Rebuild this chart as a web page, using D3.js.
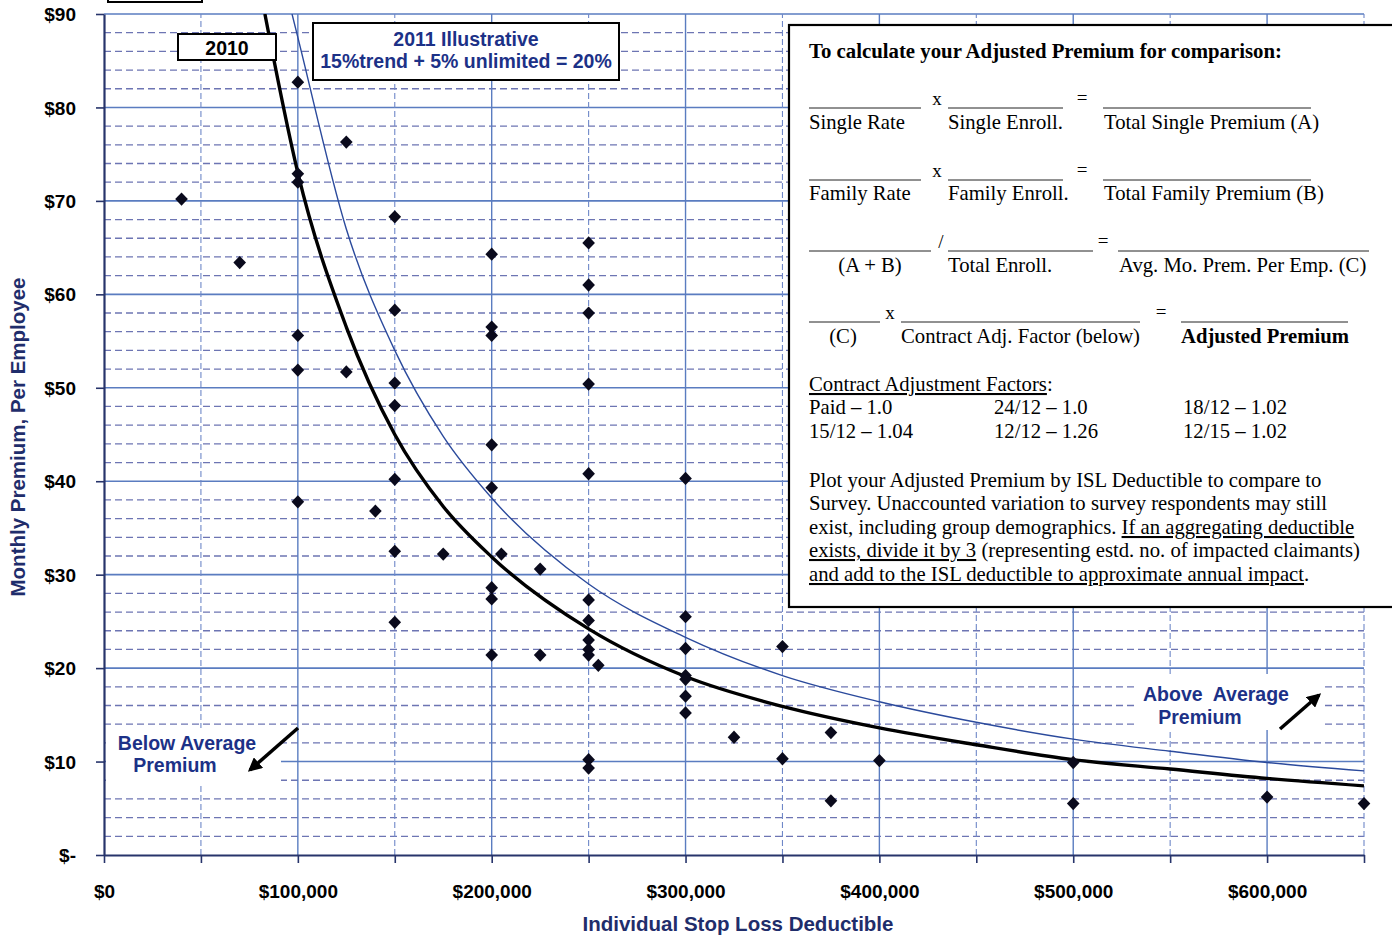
<!DOCTYPE html>
<html>
<head>
<meta charset="UTF-8">
<title>ISL Deductible vs Monthly Premium</title>
<script src="https://d3js.org/d3.v7.min.js"></script>
<style>
    body { margin: 0; background: white; }
    .tick-label { font-family: "Liberation Sans", Arial, sans-serif; font-size: 19px; font-weight: bold; fill: black; }
    .axis-title { font-family: "Liberation Sans", Arial, sans-serif; font-size: 20.5px; font-weight: bold; fill: #1f2d6b; }
    .note { font-family: "Liberation Sans", Arial, sans-serif; font-size: 19.5px; font-weight: bold; fill: #1c3187; white-space: pre; }
    .box-text { font-family: "Liberation Serif", "Times New Roman", serif; font-size: 20.7px; fill: black; }
</style>
</head>
<body>
<script>
var width = 1392, height = 937;

// survey respondents: ISL deductible and monthly premium per employee
var deductibles = [40000, 70000, 100000, 100000, 100000, 125000, 150000,
    100000, 100000, 125000, 150000, 150000, 150000, 150000, 150000, 150000,
    100000, 140000, 175000,
    200000, 200000, 200000, 200000, 200000, 200000, 200000, 200000,
    205000, 225000, 225000,
    250000, 250000, 250000, 250000, 250000, 250000, 250000, 250000, 250000, 250000, 255000, 250000, 250000,
    300000, 300000, 300000, 300000, 300000, 300000, 300000,
    325000, 350000, 350000, 375000, 375000, 400000,
    500000, 500000, 600000, 650000];
var premiums = [70.2, 63.4, 82.7, 72.9, 72.0, 76.3, 68.3,
    55.6, 51.9, 51.7, 58.3, 50.5, 48.1, 40.2, 32.5, 24.9,
    37.8, 36.8, 32.2,
    64.3, 56.5, 55.6, 43.9, 39.3, 28.6, 27.4, 21.4,
    32.2, 30.6, 21.4,
    65.5, 61.0, 58.0, 50.4, 40.8, 27.3, 25.1, 23.0, 22.0, 21.4, 20.3, 10.2, 9.3,
    40.3, 25.5, 22.1, 19.2, 18.8, 17.0, 15.2,
    12.6, 22.3, 10.3, 13.1, 5.8, 10.1,
    9.9, 5.5, 6.2, 5.5];

// trend curves
var trend2010X = [83000, 100000, 125000, 150000, 175000, 200000, 250000, 300000, 350000, 400000, 450000, 500000, 550000, 600000, 650000];
var trend2010Y = [90, 73, 56.5, 45, 37.3, 31.9, 24.2, 19.1, 15.9, 13.6, 11.8, 10.2, 9.2, 8.2, 7.4];
var trend2011X = [97000, 100000, 125000, 150000, 175000, 200000, 250000, 300000, 350000, 400000, 450000, 500000, 550000, 600000, 650000];
var trend2011Y = [90, 87.5, 67, 54, 44.8, 38.2, 29.0, 23.3, 19.2, 16.4, 14.2, 12.4, 11.1, 9.9, 9.0];

var yTicks = [0, 10, 20, 30, 40, 50, 60, 70, 80, 90];
var yTickLabels = ["$-", "$10", "$20", "$30", "$40", "$50", "$60", "$70", "$80", "$90"];
var xTicks = [0, 100000, 200000, 300000, 400000, 500000, 600000];
var xTickLabels = ["$0", "$100,000", "$200,000", "$300,000", "$400,000", "$500,000", "$600,000"];

var svg = d3.select("body").append("svg")
    .attr("width", width).attr("height", height)
    .style("background", "white");

var x = d3.scaleLinear().domain([0, 650000]).range([104, 1364]);
var y = d3.scaleLinear().domain([0, 90]).range([855, 14]);

// arrow head
svg.append("defs").append("marker")
    .attr("id", "arrow").attr("viewBox", "0 0 10 10")
    .attr("refX", 8).attr("refY", 5)
    .attr("markerWidth", 4).attr("markerHeight", 4)
    .attr("orient", "auto")
    .append("path").attr("d", "M0,0L10,5L0,10Z").attr("fill", "black");

svg.select("defs").append("clipPath").attr("id", "plot-clip")
    .append("rect").attr("x", x(0)).attr("y", y(90))
    .attr("width", x(650000) - x(0)).attr("height", y(0) - y(90));

// grid
var grid = svg.append("g");
var minorY = d3.range(2, 90, 2).filter(function (v) { return v % 10 !== 0; });
grid.selectAll(".hminor").data(minorY).enter().append("line")
    .attr("x1", x(0)).attr("x2", x(650000))
    .attr("y1", function (d) { return y(d); }).attr("y2", function (d) { return y(d); })
    .attr("stroke", "#6d75b3").attr("stroke-width", 1.3).attr("stroke-dasharray", "7,4");
grid.selectAll(".hmajor").data(d3.range(10, 91, 10)).enter().append("line")
    .attr("x1", x(0)).attr("x2", x(650000))
    .attr("y1", function (d) { return y(d); }).attr("y2", function (d) { return y(d); })
    .attr("stroke", "#5a7cc0").attr("stroke-width", 1.6);
grid.selectAll(".vminor").data(d3.range(50000, 650001, 100000)).enter().append("line")
    .attr("y1", y(0)).attr("y2", y(90))
    .attr("x1", function (d) { return x(d); }).attr("x2", function (d) { return x(d); })
    .attr("stroke", "#6f88c8").attr("stroke-width", 1.1).attr("stroke-dasharray", "6,3");
grid.selectAll(".vmajor").data(d3.range(100000, 600001, 100000)).enter().append("line")
    .attr("y1", y(0)).attr("y2", y(90))
    .attr("x1", function (d) { return x(d); }).attr("x2", function (d) { return x(d); })
    .attr("stroke", "#5a7cc0").attr("stroke-width", 1.4);

// axes
var yAxis = svg.append("g").attr("transform", "translate(" + x(0) + ",0)")
    .call(d3.axisLeft(y).tickValues(yTicks).tickSize(8).tickSizeOuter(0)
        .tickFormat(function (d, i) { return yTickLabels[i]; }));
var xAxis = svg.append("g").attr("transform", "translate(0," + y(0) + ")")
    .call(d3.axisBottom(x).tickValues(d3.range(0, 650001, 50000)).tickSize(8).tickSizeOuter(0)
        .tickFormat(function (d) {
            var i = xTicks.indexOf(d);
            return i >= 0 ? xTickLabels[i] : "";
        }));
[xAxis, yAxis].forEach(function (a) {
    a.select(".domain").attr("stroke", "#27346b").attr("stroke-width", 2.2);
    a.selectAll(".tick line").attr("stroke", "#27346b").attr("stroke-width", 1.6);
    a.selectAll("text").attr("class", "tick-label").attr("font-size", null).attr("font-family", null);
});
yAxis.selectAll("text").attr("x", -28).attr("dy", "0.35em");
xAxis.selectAll("text").attr("y", 36).attr("dy", "0.35em");

svg.append("text").attr("class", "axis-title")
    .attr("x", 738).attr("y", 924).attr("dy", "0.35em").attr("text-anchor", "middle")
    .text("Individual Stop Loss Deductible");
svg.append("text").attr("class", "axis-title")
    .attr("transform", "translate(18,437) rotate(-90)").attr("dy", "0.35em").attr("text-anchor", "middle")
    .text("Monthly Premium, Per Employee");

// trend curves
var line = d3.line()
    .x(function (d) { return x(d[0]); })
    .y(function (d) { return y(d[1]); })
    .curve(d3.curveMonotoneX);
var curves = svg.append("g").attr("clip-path", "url(#plot-clip)");
curves.append("path")
    .attr("d", line(d3.zip(trend2011X, trend2011Y)))
    .attr("fill", "none").attr("stroke", "#2b4a9c").attr("stroke-width", 1.4);
curves.append("path")
    .attr("d", line(d3.zip(trend2010X, trend2010Y)))
    .attr("fill", "none").attr("stroke", "black").attr("stroke-width", 3.4);

// respondents
svg.append("g").selectAll("path").data(d3.zip(deductibles, premiums)).enter()
    .append("path")
    .attr("d", d3.symbol().type(d3.symbolSquare).size(80))
    .attr("transform", function (d) {
        return "translate(" + x(d[0]) + "," + y(d[1]) + ") scale(1,1.05) rotate(45)";
    })
    .attr("fill", "#0a0a1c");

// annotations
var notes = svg.append("g");
notes.append("rect").attr("x", 108).attr("y", -30).attr("width", 94).attr("height", 32)
    .attr("fill", "white").attr("stroke", "black").attr("stroke-width", 2);

notes.append("rect").attr("x", 178).attr("y", 34).attr("width", 98).attr("height", 26)
    .attr("fill", "white").attr("stroke", "black").attr("stroke-width", 2);
notes.append("text").attr("class", "note").style("fill", "black")
    .attr("x", 227).attr("y", 48).attr("dy", "0.35em").attr("text-anchor", "middle").text("2010");

notes.append("rect").attr("x", 313).attr("y", 23).attr("width", 306).attr("height", 57)
    .attr("fill", "white").attr("stroke", "black").attr("stroke-width", 2);
notes.append("text").attr("class", "note")
    .attr("x", 466).attr("y", 39).attr("dy", "0.35em").attr("text-anchor", "middle").text("2011 Illustrative");
notes.append("text").attr("class", "note")
    .attr("x", 466).attr("y", 61).attr("dy", "0.35em").attr("text-anchor", "middle").text("15%trend + 5% unlimited = 20%");

notes.append("rect").attr("x", 106).attr("y", 728).attr("width", 175).attr("height", 57).attr("fill", "white");
notes.append("text").attr("class", "note")
    .attr("x", 187).attr("y", 743).attr("dy", "0.35em").attr("text-anchor", "middle").text("Below Average");
notes.append("text").attr("class", "note")
    .attr("x", 175).attr("y", 765).attr("dy", "0.35em").attr("text-anchor", "middle").text("Premium");
notes.append("line").attr("x1", 298).attr("y1", 728).attr("x2", 250).attr("y2", 770)
    .attr("stroke", "black").attr("stroke-width", 3.5).attr("marker-end", "url(#arrow)");

notes.append("rect").attr("x", 1138).attr("y", 674).attr("width", 184).attr("height", 56).attr("fill", "white");
notes.append("text").attr("class", "note")
    .attr("x", 1216).attr("y", 694).attr("dy", "0.35em").attr("text-anchor", "middle").text("Above  Average");
notes.append("text").attr("class", "note")
    .attr("x", 1200).attr("y", 717).attr("dy", "0.35em").attr("text-anchor", "middle").text("Premium");
notes.append("line").attr("x1", 1280).attr("y1", 729).attr("x2", 1319).attr("y2", 695)
    .attr("stroke", "black").attr("stroke-width", 3.5).attr("marker-end", "url(#arrow)");

// instructions box
var box = svg.append("g");
box.append("rect").attr("x", 789).attr("y", 25).attr("width", 640).attr("height", 582)
    .attr("fill", "white").attr("stroke", "black").attr("stroke-width", 2.2);

function txt(xp, yp, s, opts) {
    var t = box.append("text").attr("class", "box-text").attr("x", xp).attr("y", yp).text(s);
    if (opts && opts.bold) t.style("font-weight", "bold");
    if (opts && opts.anchor) t.attr("text-anchor", opts.anchor);
    if (opts && opts.size) t.style("font-size", opts.size);
    return t;
}
function rule(x1, x2, yp) {
    box.append("line").attr("x1", x1).attr("x2", x2).attr("y1", yp).attr("y2", yp)
        .attr("stroke", "#222").attr("stroke-width", 1);
}

txt(809, 58, "To calculate your Adjusted Premium for comparison:", { bold: true, size: "20.8px" });

rule(809, 921, 108); rule(948, 1063, 108); rule(1103, 1311, 108);
txt(937, 105, "x", { anchor: "middle", size: "19px" });
txt(1082, 104, "=", { anchor: "middle", size: "19px" });
txt(809, 129, "Single Rate"); txt(948, 129, "Single Enroll."); txt(1104, 129, "Total Single Premium (A)");

rule(809, 921, 180); rule(948, 1063, 180); rule(1103, 1311, 180);
txt(937, 177, "x", { anchor: "middle", size: "19px" });
txt(1082, 176, "=", { anchor: "middle", size: "19px" });
txt(809, 200, "Family Rate"); txt(948, 200, "Family Enroll."); txt(1104, 200, "Total Family Premium (B)");

rule(809, 931, 251); rule(948, 1093, 251); rule(1118, 1369, 251);
txt(941, 248, "/", { anchor: "middle", size: "19px" });
txt(1103, 247, "=", { anchor: "middle", size: "19px" });
txt(870, 272, "(A + B)", { anchor: "middle" }); txt(948, 272, "Total Enroll."); txt(1119, 272, "Avg. Mo. Prem. Per Emp. (C)");

rule(809, 880, 322); rule(901, 1140, 322); rule(1181, 1348, 322);
txt(890, 319, "x", { anchor: "middle", size: "19px" });
txt(1161, 318, "=", { anchor: "middle", size: "19px" });
txt(843, 343, "(C)", { anchor: "middle" }); txt(901, 343, "Contract Adj. Factor (below)");
txt(1181, 343, "Adjusted Premium", { bold: true });

var caf = txt(809, 391, "");
caf.append("tspan").style("text-decoration", "underline").text("Contract Adjustment Factors");
caf.append("tspan").text(":");
txt(809, 414, "Paid \u2013 1.0"); txt(994, 414, "24/12 \u2013 1.0"); txt(1183, 414, "18/12 \u2013 1.02");
txt(809, 438, "15/12 \u2013 1.04"); txt(994, 438, "12/12 \u2013 1.26"); txt(1183, 438, "12/15 \u2013 1.02");

txt(809, 487, "Plot your Adjusted Premium by ISL Deductible to compare to");
txt(809, 510, "Survey. Unaccounted variation to survey respondents may still");
var p3 = txt(809, 534, "");
p3.append("tspan").text("exist, including group demographics. ");
p3.append("tspan").style("text-decoration", "underline").text("If an aggregating deductible");
var p4 = txt(809, 557, "");
p4.append("tspan").style("text-decoration", "underline").text("exists, divide it by 3");
p4.append("tspan").text(" (representing estd. no. of impacted claimants)");
var p5 = txt(809, 581, "");
p5.append("tspan").style("text-decoration", "underline").text("and add to the ISL deductible to approximate annual impact");
p5.append("tspan").text(".");
</script>
</body>
</html>
